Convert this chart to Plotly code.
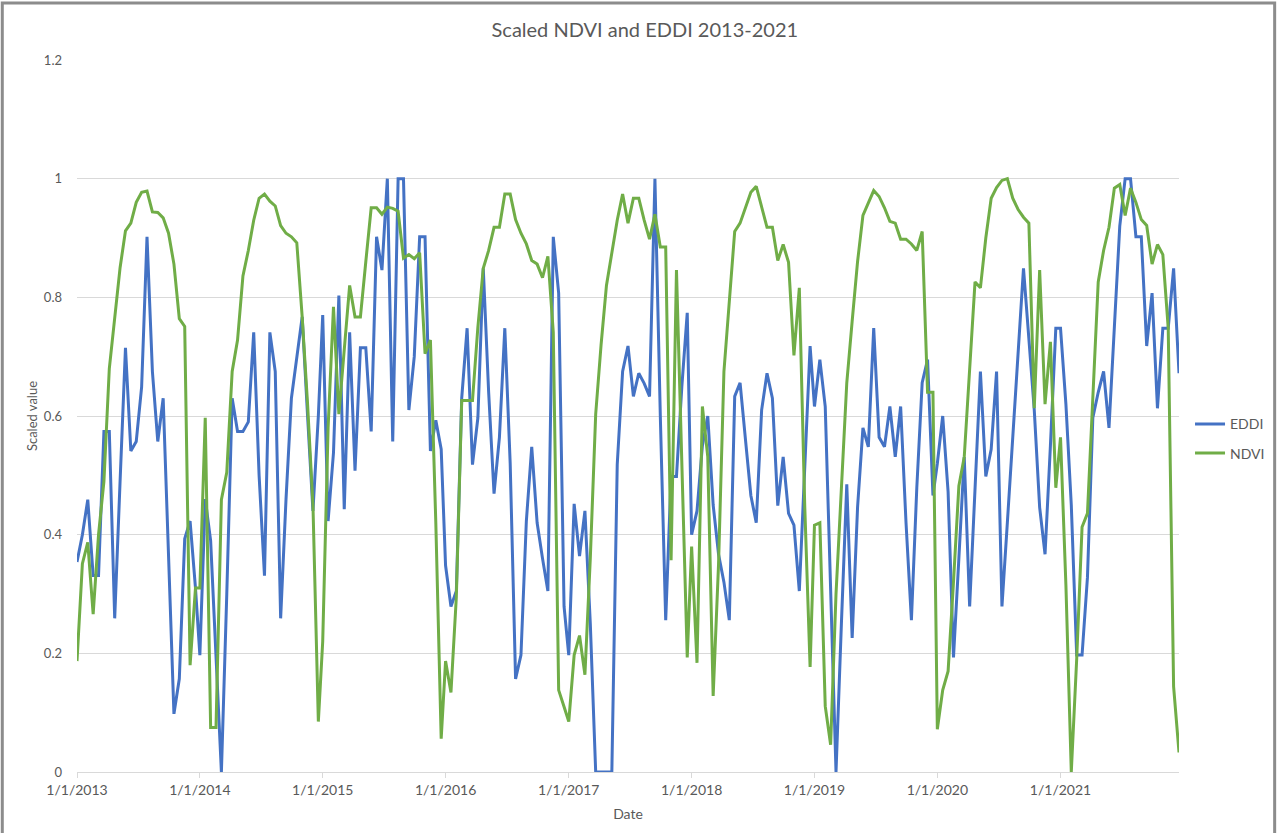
import pandas as pd
import plotly.graph_objects as go

# 16-day composite dates, 23 per year
years = list(range(2013, 2022))
composite_doy = [1, 17, 33, 49, 65, 81, 97, 113, 129, 145, 161, 177,
                 193, 209, 225, 241, 257, 273, 289, 305, 321, 337, 353]

# scaled EDDI, one list per year
eddi_2013 = [0.354, 0.40, 0.459, 0.331, 0.331, 0.574, 0.574, 0.259, 0.49, 0.715, 0.541, 0.557,
             0.649, 0.902, 0.675, 0.557, 0.630, 0.36, 0.098, 0.157, 0.393, 0.423, 0.31]
eddi_2014 = [0.197, 0.46, 0.39, 0.2, 0.0, 0.3, 0.63, 0.574, 0.574, 0.59, 0.741, 0.50,
             0.331, 0.741, 0.675, 0.259, 0.46, 0.63, 0.70, 0.767, 0.60, 0.44, 0.60]
eddi_2015 = [0.77, 0.423, 0.538, 0.803, 0.443, 0.741, 0.508, 0.715, 0.715, 0.574, 0.902, 0.846,
             1.0, 0.557, 1.0, 1.0, 0.61, 0.70, 0.902, 0.902, 0.541, 0.593, 0.544]
eddi_2016 = [0.348, 0.279, 0.305, 0.63, 0.748, 0.518, 0.597, 0.849, 0.64, 0.469, 0.564, 0.748,
             0.52, 0.157, 0.197, 0.423, 0.548, 0.42, 0.36, 0.305, 0.902, 0.807, 0.279]
eddi_2017 = [0.197, 0.452, 0.364, 0.44, 0.25, 0.0, 0.0, 0.0, 0.0, 0.518, 0.675, 0.718,
             0.633, 0.672, 0.655, 0.633, 1.0, 0.6, 0.256, 0.498, 0.498, 0.65, 0.774]
eddi_2018 = [0.40, 0.44, 0.55, 0.6, 0.45, 0.367, 0.32, 0.256, 0.633, 0.656, 0.56, 0.466,
             0.42, 0.61, 0.672, 0.63, 0.449, 0.531, 0.436, 0.416, 0.305, 0.5, 0.718]
eddi_2019 = [0.616, 0.695, 0.616, 0.3, 0.0, 0.25, 0.485, 0.226, 0.446, 0.58, 0.548, 0.748,
             0.564, 0.548, 0.616, 0.531, 0.616, 0.42, 0.256, 0.479, 0.656, 0.695, 0.466]
eddi_2020 = [0.52, 0.6, 0.472, 0.193, 0.36, 0.531, 0.279, 0.48, 0.675, 0.498, 0.544, 0.675,
             0.279, 0.42, 0.565, 0.71, 0.849, 0.73, 0.61, 0.446, 0.367, 0.55, 0.748]
eddi_2021 = [0.748, 0.62, 0.45, 0.197, 0.197, 0.328, 0.597, 0.64, 0.675, 0.58, 0.75, 0.92,
             1.0, 1.0, 0.902, 0.902, 0.718, 0.807, 0.613, 0.748, 0.748, 0.849, 0.672]

# scaled NDVI, one list per year
ndvi_2013 = [0.187, 0.351, 0.387, 0.266, 0.40, 0.49, 0.68, 0.76, 0.85, 0.912, 0.925, 0.96,
             0.977, 0.979, 0.944, 0.943, 0.934, 0.908, 0.856, 0.764, 0.751, 0.18, 0.31]
ndvi_2014 = [0.31, 0.597, 0.075, 0.075, 0.459, 0.505, 0.675, 0.728, 0.836, 0.879, 0.93, 0.967,
             0.974, 0.962, 0.954, 0.921, 0.908, 0.902, 0.892, 0.767, 0.62, 0.45, 0.085]
ndvi_2015 = [0.22, 0.58, 0.784, 0.603, 0.71, 0.82, 0.767, 0.767, 0.86, 0.951, 0.951, 0.94,
             0.952, 0.95, 0.945, 0.866, 0.872, 0.865, 0.875, 0.705, 0.728, 0.42, 0.056]
ndvi_2016 = [0.187, 0.134, 0.295, 0.626, 0.626, 0.626, 0.75, 0.849, 0.879, 0.918, 0.918, 0.974,
             0.974, 0.931, 0.908, 0.89, 0.862, 0.856, 0.833, 0.869, 0.741, 0.138, 0.11]
ndvi_2017 = [0.085, 0.197, 0.23, 0.164, 0.36, 0.603, 0.72, 0.82, 0.879, 0.93, 0.974, 0.925,
             0.967, 0.967, 0.93, 0.898, 0.94, 0.885, 0.885, 0.357, 0.846, 0.52, 0.193]
ndvi_2018 = [0.38, 0.184, 0.616, 0.531, 0.128, 0.35, 0.675, 0.8, 0.911, 0.925, 0.95, 0.977,
             0.987, 0.951, 0.918, 0.918, 0.862, 0.889, 0.859, 0.702, 0.816, 0.45, 0.177]
ndvi_2019 = [0.416, 0.42, 0.111, 0.046, 0.3, 0.48, 0.656, 0.76, 0.86, 0.938, 0.96, 0.98,
             0.97, 0.951, 0.928, 0.925, 0.898, 0.898, 0.89, 0.879, 0.911, 0.64, 0.64]
ndvi_2020 = [0.072, 0.138, 0.17, 0.32, 0.482, 0.531, 0.68, 0.826, 0.816, 0.9, 0.967, 0.985,
             0.997, 1.0, 0.967, 0.948, 0.935, 0.925, 0.613, 0.846, 0.62, 0.725, 0.479]
ndvi_2021 = [0.564, 0.315, 0.0, 0.19, 0.413, 0.436, 0.63, 0.826, 0.879, 0.918, 0.984, 0.99,
             0.938, 0.984, 0.96, 0.931, 0.921, 0.856, 0.889, 0.872, 0.748, 0.144, 0.033]

tick_labels = ["1/1/%d" % y for y in years]

eddi_by_year = [eddi_2013, eddi_2014, eddi_2015, eddi_2016, eddi_2017,
                eddi_2018, eddi_2019, eddi_2020, eddi_2021]
ndvi_by_year = [ndvi_2013, ndvi_2014, ndvi_2015, ndvi_2016, ndvi_2017,
                ndvi_2018, ndvi_2019, ndvi_2020, ndvi_2021]

dates = []
eddi = []
ndvi = []
for y, e, n in zip(years, eddi_by_year, ndvi_by_year):
    assert len(e) == len(composite_doy) and len(n) == len(composite_doy), y
    for d in composite_doy:
        dates.append(pd.Timestamp(y, 1, 1) + pd.Timedelta(days=d - 1))
    eddi += e
    ndvi += n

df = pd.DataFrame({"Date": dates, "EDDI": eddi, "NDVI": ndvi})

grey = "#595959"
font = "Lato, 'Open Sans', sans-serif"

fig = go.Figure()
fig.add_trace(go.Scatter(x=df["Date"], y=df["EDDI"], mode="lines", name="EDDI",
                         line=dict(color="#4472C4", width=3), legendgroup="a"))
fig.add_trace(go.Scatter(x=df["Date"], y=df["NDVI"], mode="lines", name="NDVI",
                         line=dict(color="#70AD47", width=3), legendgroup="b"))

fig.update_layout(
    width=1282, height=833,
    margin=dict(l=77, r=99, t=60, b=61),
    paper_bgcolor="white", plot_bgcolor="white",
    font=dict(family=font, size=13, color=grey),
    title=dict(text="Scaled NDVI and EDDI 2013-2021", x=0.503, xref="container", y=0.964,
               yanchor="middle", font=dict(size=20, color=grey)),
    showlegend=True,
    legend=dict(x=1.01, y=0.468, xanchor="left", yanchor="middle",
                font=dict(size=14, color=grey), tracegroupgap=8,
                bgcolor="rgba(0,0,0,0)"),
    shapes=[dict(type="rect", xref="paper", yref="paper",
                 x0=-0.0678, x1=1.0868, y0=-0.2, y1=1.08,
                 line=dict(color="#8c8c8c", width=3), fillcolor="rgba(0,0,0,0)")],
)

fig.update_xaxes(
    type="date",
    range=[df["Date"].iloc[0], df["Date"].iloc[-1]],
    tickvals=[pd.Timestamp(y, 1, 1) for y in years], ticktext=tick_labels,
    showgrid=False, showline=True, linecolor="#d9d9d9", linewidth=1,
    ticks="outside", ticklen=5, tickcolor="#d9d9d9",
    tickfont=dict(size=14, color=grey),
    title=dict(text="Date", font=dict(size=14, color=grey), standoff=12),
    zeroline=False,
)
fig.update_yaxes(
    range=[0, 1.2], tickvals=[0, 0.2, 0.4, 0.6, 0.8, 1, 1.2],
    showgrid=True, gridcolor="#d9d9d9", gridwidth=1,
    showline=False, zeroline=False, ticks="",
    ticklabelstandoff=14,
    tickfont=dict(size=13, color=grey),
    title=dict(text="Scaled value", font=dict(size=13, color=grey), standoff=3),
)

fig.write_html("out.html", config={"displayModeBar": False},
               post_script="document.body.style.margin='0';")
